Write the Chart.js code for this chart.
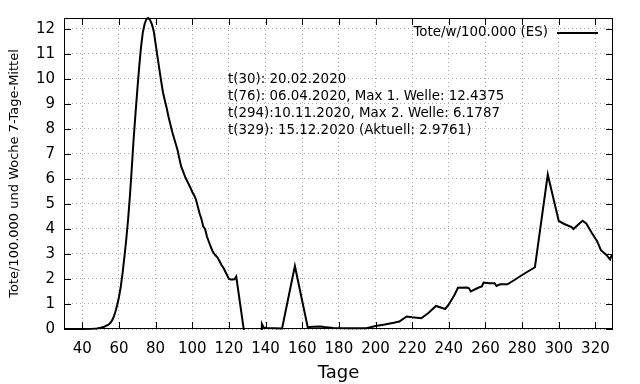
<!DOCTYPE html>
<html>
<head>
<meta charset="utf-8">
<script src="https://cdn.jsdelivr.net/npm/chart.js@4/dist/chart.umd.min.js"></script>
<style>
  html, body { margin: 0; padding: 0; background: #ffffff; }
  #c { display: block; }
</style>
</head>
<body>
<canvas id="c" width="640" height="384"></canvas>
<script>
// ---- data ----
const days = [30, 35, 40, 45, 48, 50, 52, 54, 55, 56, 57, 58, 59, 60, 61, 62, 63, 64, 65, 66, 67, 68, 69, 70,
  71, 72, 73, 74, 75, 76, 77, 78, 79, 80, 81, 82, 83, 84, 85, 86, 87, 88, 89, 90, 91, 92, 93, 94, 95, 96,
  97, 98, 99, 100, 101, 102, 103, 104, 105, 106, 107, 108, 109, 110, 111, 112, 113, 114, 115, 116, 117,
  118, 119, 120, 121, 122, 123, 124, 130, 137, 138, 139, 140, 145, 149, 156, 163, 166, 170, 172, 177, 185,
  195, 200, 205, 210, 213, 217, 220, 225, 229, 233, 236, 238, 240, 243, 245, 250, 251, 252, 256, 258, 259,
  262, 265, 266, 268, 272, 276, 280, 287, 294, 300, 303, 307, 308, 311, 313, 315, 318, 321, 323, 326, 328, 329];
const deaths = [0, 0, 0, 0.005, 0.02, 0.05, 0.09, 0.16, 0.22, 0.31, 0.46, 0.68, 0.95, 1.28, 1.7, 2.25, 2.9, 3.6, 4.4, 5.35, 6.45, 7.6, 8.6, 9.55,
  10.45, 11.25, 11.85, 12.2, 12.4, 12.4375, 12.35, 12.18, 11.9, 11.4, 10.9, 10.4, 9.92, 9.47, 9.15, 8.85, 8.5, 8.2, 7.9, 7.65, 7.4, 7.15, 6.8, 6.48, 6.3, 6.1,
  5.95, 5.8, 5.65, 5.48, 5.35, 5.18, 4.9, 4.62, 4.4, 4.1, 4.0, 3.7, 3.5, 3.3, 3.12, 3.0, 2.92, 2.83, 2.7, 2.55, 2.45,
  2.3, 2.15, 2.0, 1.98, 1.98, 1.99, 2.1, -1.0, -6.0, 0.2, 0.05, 0.04, 0.03, 0.02, 2.52, 0.07, 0.09, 0.1, 0.08, 0.04, 0.03,
  0.03, 0.12, 0.18, 0.25, 0.3, 0.5, 0.47, 0.43, 0.65, 0.92, 0.85, 0.8, 0.98, 1.35, 1.65, 1.66, 1.63, 1.5, 1.65, 1.7, 1.86,
  1.83, 1.83, 1.72, 1.79, 1.79, 1.97, 2.16, 2.47, 6.1787, 4.32, 4.2, 4.08, 4.0, 4.2, 4.33, 4.22, 3.85, 3.5, 3.15, 2.96, 2.78, 2.9761];
const xTicks = [40, 60, 80, 100, 120, 140, 160, 180, 200, 220, 240, 260, 280, 300, 320];
const yTicks = [0, 1, 2, 3, 4, 5, 6, 7, 8, 9, 10, 11, 12];
const seriesLabel = 'Tote/w/100.000 (ES)';
const xTitle = 'Tage';
const yTitle = 'Tote/100.000 und Woche 7-Tage-Mittel';
const notes = [
  't(30): 20.02.2020',
  't(76): 06.04.2020, Max 1. Welle: 12.4375',
  't(294):10.11.2020, Max 2. Welle: 6.1787',
  't(329): 15.12.2020 (Aktuell: 2.9761)'
];

const FONT = '"DejaVu Sans", sans-serif';

const frame = {
  id: 'frame',
  afterDatasetsDraw(chart) {
    const { ctx, chartArea: a, scales: { x, y } } = chart;
    ctx.save();
    // border
    ctx.strokeStyle = '#000';
    ctx.lineWidth = 1;
    ctx.strokeRect(Math.round(a.left) + 0.5, Math.round(a.top) + 0.5,
      Math.round(a.right - a.left) - 1, Math.round(a.bottom - a.top) - 1);
    // inward tick marks on all four sides
    const L = 7;
    ctx.beginPath();
    x.ticks.forEach(t => {
      const px = Math.round(x.getPixelForValue(t.value)) + 0.5;
      ctx.moveTo(px, a.bottom); ctx.lineTo(px, a.bottom - L);
      ctx.moveTo(px, a.top); ctx.lineTo(px, a.top + L);
    });
    y.ticks.forEach(t => {
      const py = Math.round(y.getPixelForValue(t.value)) + 0.5;
      ctx.moveTo(a.left, py); ctx.lineTo(a.left + L, py);
      ctx.moveTo(a.right, py); ctx.lineTo(a.right - L, py);
    });
    ctx.stroke();
    // notes
    ctx.fillStyle = '#000';
    ctx.font = '13.4px ' + FONT;
    ctx.textBaseline = 'middle';
    ctx.textAlign = 'left';
    notes.forEach((s, i) => ctx.fillText(s, 228, 80 + i * 17));
    // legend
    ctx.textAlign = 'right';
    ctx.fillText(chart.data.datasets[0].label, 548, 33);
    ctx.beginPath();
    ctx.lineWidth = 2;
    ctx.moveTo(557, 33); ctx.lineTo(598, 33);
    ctx.stroke();
    ctx.restore();
  }
};

new Chart(document.getElementById('c'), {
  type: 'line',
  data: {
    datasets: [{
      label: seriesLabel,
      data: days.map((d, i) => ({ x: d, y: deaths[i] })),
      borderColor: '#000',
      borderWidth: 2,
      pointRadius: 0,
      tension: 0,
      fill: false,
      clip: { left: 0, top: 2, right: 0, bottom: 1 }
    }]
  },
  options: {
    responsive: false,
    animation: false,
    devicePixelRatio: 1,
    layout: { padding: { top: 17, right: 27, left: 0, bottom: 0 } },
    plugins: { legend: { display: false }, tooltip: { enabled: false } },
    scales: {
      x: {
        type: 'linear',
        min: 30,
        max: 329.6,
        afterBuildTicks: s => { s.ticks = xTicks.map(v => ({ value: v })); },
        afterFit: s => { s.height = 55; },
        grid: { color: '#a8a8a8', lineWidth: 1, drawTicks: false },
        border: { display: false, dash: [1, 3] },
        ticks: { color: '#000', font: { family: FONT, size: 15 }, padding: 11, maxRotation: 0, autoSkip: false },
        title: { display: true, text: xTitle, color: '#000', font: { family: FONT, size: 18 }, padding: { top: 0, bottom: 0 } }
      },
      y: {
        type: 'linear',
        min: 0,
        max: 12.4375,
        afterBuildTicks: s => { s.ticks = yTicks.map(v => ({ value: v })); },
        afterFit: s => { s.width = 64; },
        grid: { color: '#a8a8a8', lineWidth: 1, drawTicks: false },
        border: { display: false, dash: [1, 3] },
        ticks: { color: '#000', font: { family: FONT, size: 15 }, padding: 9, autoSkip: false },
        title: { display: true, text: yTitle, color: '#000', font: { family: FONT, size: 13 }, padding: { top: 7, bottom: 0 } }
      }
    }
  },
  plugins: [frame]
});
</script>
</body>
</html>
